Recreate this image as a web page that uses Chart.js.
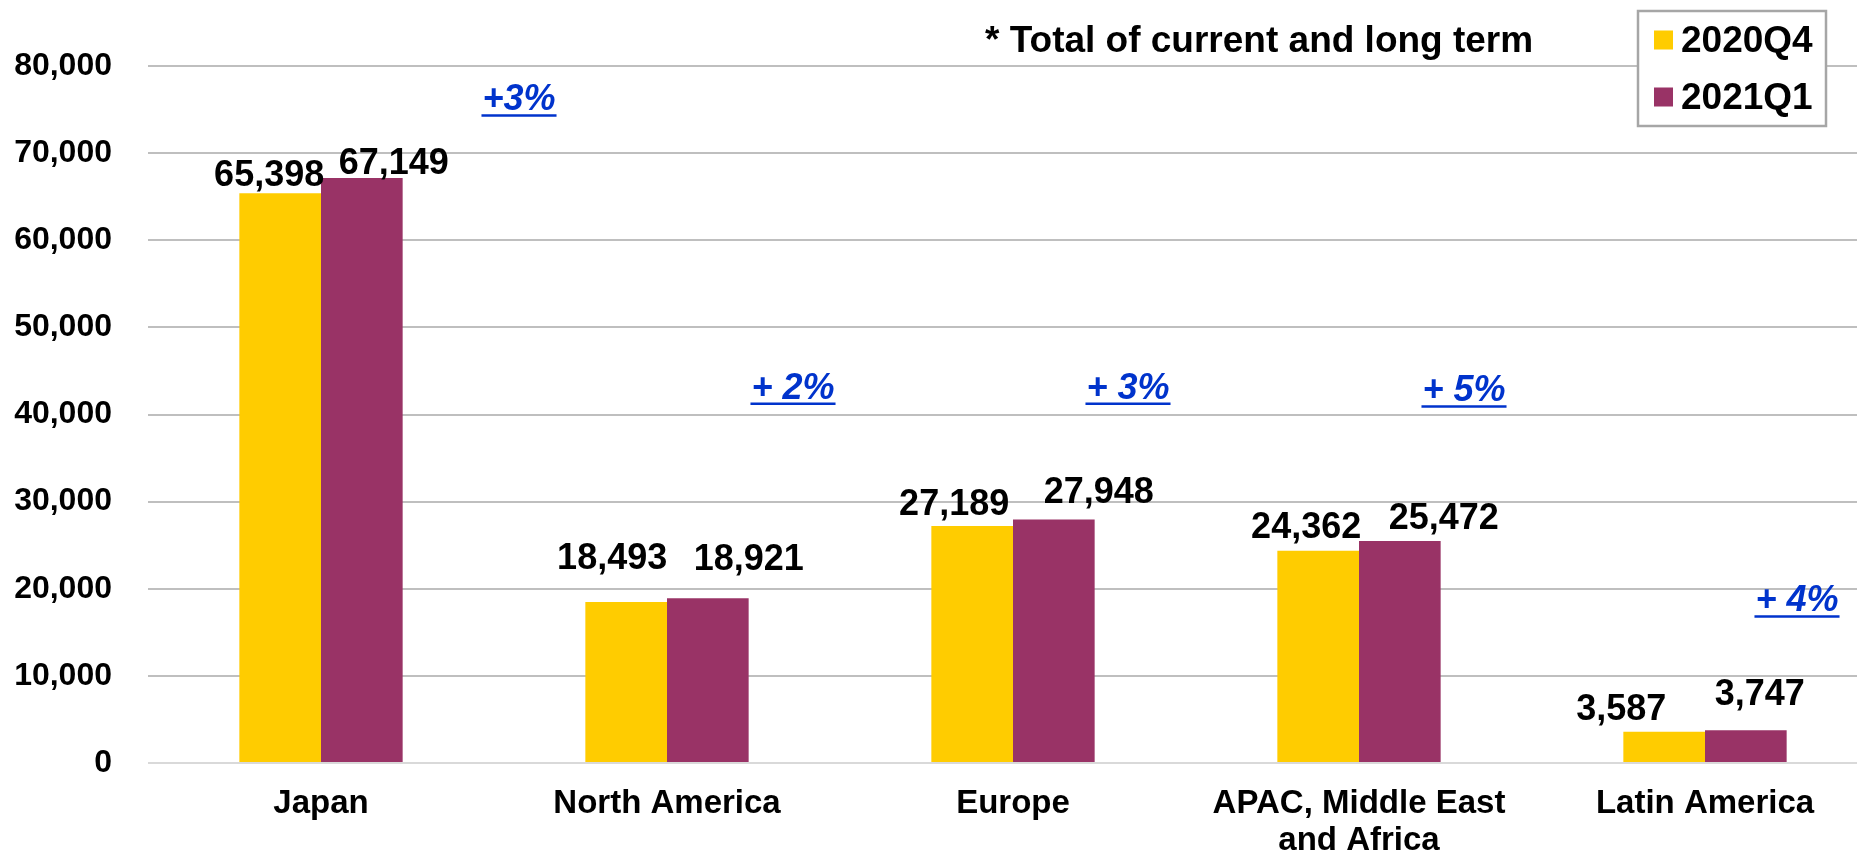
<!DOCTYPE html>
<html><head><meta charset="utf-8">
<script src="https://cdn.jsdelivr.net/npm/chart.js@4.4.1/dist/chart.umd.min.js"></script>
<style>
html,body{margin:0;padding:0;overflow:hidden;background:#fff;width:1857px;height:851px}
#wrap{position:absolute;left:0;top:0;width:1880px;height:851px}
canvas{display:block}
</style></head><body>
<div id="wrap"><canvas id="c" width="1880" height="851"></canvas></div>
<script>
// ---- data ----
const categories = ['Japan', 'North America', 'Europe', ['APAC, Middle East', 'and Africa'], 'Latin America'];
const seriesNames = ['2020Q4', '2021Q1'];
const values2020Q4 = [65398, 18493, 27189, 24362, 3587];
const values2021Q1 = [67149, 18921, 27948, 25472, 3747];
const growthLabels = ['+3%', '+ 2%', '+ 3%', '+ 5%', '+ 4%'];
const yTickValues = [0, 10000, 20000, 30000, 40000, 50000, 60000, 70000, 80000];
const noteText = '* Total of current and long term';

// ---- layout (offsets / anchors, not data) ----
const FONT = '"Liberation Sans", Arial, Helvetica, sans-serif';
const seriesColors = ['#FFCC00', '#993366'];
// value-label offsets from each bar's top-centre [dx, dy] in px
const labelOffsetsQ4 = [[-11, -17.5], [-14, -42.5], [-18, -21.5], [-12, -22.5], [-43, -21.5]];
const labelOffsetsQ1 = [[32, -13.5], [41, -38.5], [45, -26.5], [44, -21.5], [14, -35.5]];
// growth annotation: dx from category centre (px), baseline anchored at a y-axis value
const growthDx = [198, 126, 115, 105, 92];
const growthBaseValue = [74900, 41800, 41800, 41500, 17400];

const numFmt = v => v.toLocaleString('en-US');

const overlay = {
  id: 'overlay',
  afterDatasetsDraw(chart) {
    const ctx = chart.ctx;
    const xs = chart.scales.x, ys = chart.scales.y;
    ctx.save();
    // value labels
    ctx.font = 'bold 36px ' + FONT;
    ctx.fillStyle = '#000';
    ctx.textAlign = 'center';
    ctx.textBaseline = 'middle';
    const offs = [labelOffsetsQ4, labelOffsetsQ1];
    chart.data.datasets.forEach((ds, di) => {
      const meta = chart.getDatasetMeta(di);
      meta.data.forEach((bar, i) => {
        const o = offs[di][i];
        ctx.fillText(numFmt(ds.data[i]), bar.x + o[0], bar.y + o[1]);
      });
    });
    // growth annotations
    ctx.font = 'italic bold 36px ' + FONT;
    ctx.fillStyle = '#0033CC';
    ctx.strokeStyle = '#0033CC';
    ctx.textBaseline = 'alphabetic';
    growthLabels.forEach((t, i) => {
      const cx = xs.getPixelForValue(i) + growthDx[i];
      const by = ys.getPixelForValue(growthBaseValue[i]);
      ctx.fillText(t, cx, by);
      const w = ctx.measureText(t).width;
      ctx.lineWidth = 2.5;
      ctx.beginPath();
      ctx.moveTo(cx - w / 2 - 1, by + 5);
      ctx.lineTo(cx + w / 2 + 1, by + 5);
      ctx.stroke();
    });
    // note text
    ctx.font = 'bold 37px ' + FONT;
    ctx.fillStyle = '#000';
    ctx.textAlign = 'left';
    ctx.fillText(noteText, 985, 52);
    // legend box
    const bx = 1638, by0 = 11, bw = 188, bh = 115;
    ctx.fillStyle = '#fff';
    ctx.fillRect(bx, by0, bw, bh);
    ctx.strokeStyle = '#a6a6a6';
    ctx.lineWidth = 2.5;
    ctx.strokeRect(bx, by0, bw, bh);
    ctx.textBaseline = 'middle';
    chart.data.datasets.forEach((ds, di) => {
      const cy = 40 + di * 57;
      ctx.fillStyle = ds.backgroundColor;
      ctx.fillRect(1654, cy - 9.5, 19, 19);
      ctx.fillStyle = '#000';
      ctx.font = 'bold 37px ' + FONT;
      ctx.fillText(ds.label, 1681, cy + 2);
    });
    ctx.restore();
  }
};

new Chart(document.getElementById('c'), {
  type: 'bar',
  data: {
    labels: categories,
    datasets: [
      { label: seriesNames[0], data: values2020Q4, backgroundColor: seriesColors[0] },
      { label: seriesNames[1], data: values2021Q1, backgroundColor: seriesColors[1] }
    ]
  },
  options: {
    responsive: false,
    animation: false,
    devicePixelRatio: 1,
    layout: { padding: { top: 66, right: 2, left: 0, bottom: 0 } },
    datasets: { bar: { categoryPercentage: 0.472, barPercentage: 1.0 } },
    plugins: { legend: { display: false }, tooltip: { enabled: false }, title: { display: false } },
    scales: {
      x: {
        grid: { display: false, drawTicks: false },
        border: { display: false },
        ticks: {
          color: '#000', font: { family: FONT, size: 33, weight: 'bold', lineHeight: 1.1 },
          padding: 23, maxRotation: 0, autoSkip: false
        },
        afterFit(s) { s.height = 88; }
      },
      y: {
        min: 0, max: 80000,
        afterBuildTicks(s) { s.ticks = yTickValues.map(v => ({ value: v })); },
        grid: {
          drawTicks: false, lineWidth: 2,
          color: c => (c.tick && c.tick.value === 0) ? '#d9d9d9' : '#bfbfbf'
        },
        border: { display: false },
        ticks: {
          color: '#000', padding: 36,
          font: { family: FONT, size: 32, weight: 'bold' },
          callback: v => numFmt(v)
        },
        afterFit(s) { s.width = 148; }
      }
    }
  },
  plugins: [overlay]
});
</script>
</body></html>
